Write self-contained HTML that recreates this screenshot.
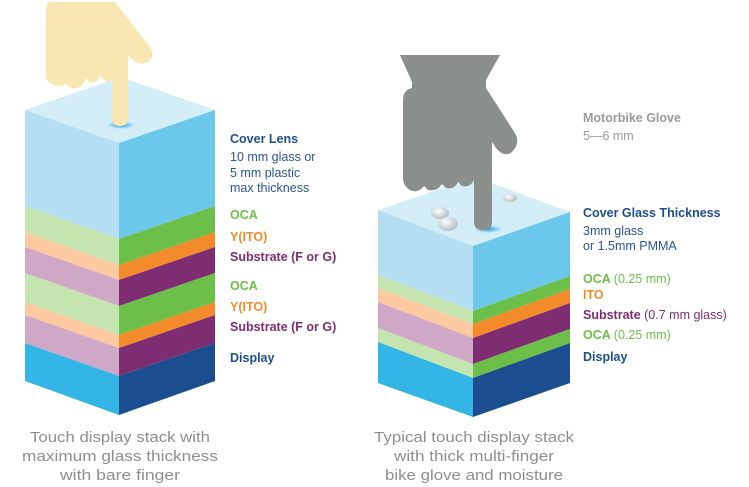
<!DOCTYPE html>
<html><head><meta charset="utf-8"><style>
html,body{margin:0;padding:0;background:#fff;}
svg{display:block;}
.b{font-family:"Liberation Sans",sans-serif;font-size:12.5px;font-weight:bold;}
.n{font-family:"Liberation Sans",sans-serif;font-size:12.5px;}
.c{font-family:"Liberation Sans Narrow","Liberation Sans",sans-serif;font-size:15px;fill:#8c8f8c;text-anchor:middle;}
</style></head><body>
<svg width="749" height="487" viewBox="0 0 749 487" xmlns="http://www.w3.org/2000/svg">
<defs>
<radialGradient id="g" cx="50%" cy="50%" r="50%"><stop offset="0" stop-color="#2a9be0"/><stop offset="1" stop-color="#2a9be0" stop-opacity="0"/></radialGradient>
<radialGradient id="d" cx="40%" cy="35%" r="60%"><stop offset="0" stop-color="#ffffff"/><stop offset="1" stop-color="#b9c4c8"/></radialGradient>
</defs>
<!-- LEFT STACK -->
<g>
<polygon points="25,110 121,77 215,110 119,143" fill="#d4eef8"/>
<!-- layers: left face x 25..119, right 119..215, front offset 33 -->
<polygon points="25,110 119,143 119,239 25,206" fill="#b6def2"/><polygon points="119,143 215,110 215,206 119,239" fill="#6cc8ea"/>
<polygon points="25,206 119,239 119,265 25,232" fill="#c4e4b0"/><polygon points="119,239 215,206 215,232 119,265" fill="#6cbf48"/>
<polygon points="25,232 119,265 119,280 25,247" fill="#fcc9a0"/><polygon points="119,265 215,232 215,247 119,280" fill="#f38b2a"/>
<polygon points="25,247 119,280 119,306 25,273" fill="#cfa8c8"/><polygon points="119,280 215,247 215,273 119,306" fill="#7e2d72"/>
<polygon points="25,273 119,306 119,335 25,302" fill="#c4e4b0"/><polygon points="119,306 215,273 215,302 119,335" fill="#6cbf48"/>
<polygon points="25,302 119,335 119,348 25,315" fill="#fcc9a0"/><polygon points="119,335 215,302 215,315 119,348" fill="#f38b2a"/>
<polygon points="25,315 119,348 119,376 25,343" fill="#cfa8c8"/><polygon points="119,348 215,315 215,343 119,376" fill="#7e2d72"/>
<polygon points="25,343 119,376 119,415 25,381" fill="#33b5e5"/><polygon points="119,376 215,343 215,381 119,415" fill="#1b4e8f"/>
<ellipse cx="121" cy="125" rx="14" ry="4" fill="url(#g)"/>
<path d="M46,8 Q46,2 52,2 L115,2 L146,42 Q158,55 148,62 Q140,66 133,60 L128,56 L128,118 Q128,126 120,126 Q112,126 112,118 L112,80 Q108,84 104,80 L100,76 Q97,84 89,82 L86,78 Q82,90 72,88 L65,84 Q60,88 52,84 Q46,82 46,76 Z" fill="#f9e7b3"/>
</g>
<!-- RIGHT STACK -->
<g>
<polygon points="378,210 475,177 570,212 473,246" fill="#d4eef8"/>
<polygon points="378,210 473,246 473,311 378,275" fill="#b6def2"/><polygon points="473,246 570,212 570,276 473,311" fill="#6cc8ea"/>
<polygon points="378,275 473,311 473,324 378,288" fill="#c4e4b0"/><polygon points="473,311 570,276 570,289 473,324" fill="#6cbf48"/>
<polygon points="378,288 473,324 473,338 378,302" fill="#fcc9a0"/><polygon points="473,324 570,289 570,303 473,338" fill="#f38b2a"/>
<polygon points="378,302 473,338 473,364 378,328" fill="#cfa8c8"/><polygon points="473,338 570,303 570,329 473,364" fill="#7e2d72"/>
<polygon points="378,328 473,364 473,378 378,342" fill="#c4e4b0"/><polygon points="473,364 570,329 570,343 473,378" fill="#6cbf48"/>
<polygon points="378,342 473,378 473,417 378,383" fill="#33b5e5"/><polygon points="473,378 570,343 570,383 473,417" fill="#1b4e8f"/>
<ellipse cx="488" cy="229" rx="14" ry="4" fill="url(#g)"/>
<ellipse cx="440" cy="213" rx="9" ry="6" fill="url(#d)"/>
<ellipse cx="448" cy="224" rx="10" ry="7" fill="url(#d)"/>
<ellipse cx="510" cy="198" rx="7" ry="4" fill="url(#d)"/>
<path d="M400,55 L500,55 L486,80 L486,88 L513,130 Q522,142 512,152 Q504,158 496,148 L492,142 L492,222 Q492,230 483,230 Q474,230 474,222 L474,180 Q470,188 462,186 L458,182 Q454,190 446,188 L442,184 Q437,192 428,190 L424,186 Q418,194 410,190 Q403,186 403,178 L403,100 Q403,90 412,88 L412,82 Z" fill="#8b8f8b"/>
</g>
<!-- LEFT LABELS -->
<text x="230" y="143" class="b" fill="#1f4e8c">Cover Lens</text>
<text x="230" y="161" class="n" fill="#2a5592">10 mm glass or</text>
<text x="230" y="177" class="n" fill="#2a5592">5 mm plastic</text>
<text x="230" y="192" class="n" fill="#2a5592">max thickness</text>
<text x="230" y="219" class="b" fill="#6cbf48">OCA</text>
<text x="230" y="241" class="b" fill="#f38b2a">Y(ITO)</text>
<text x="230" y="261" class="b" fill="#7e2d72">Substrate (F or G)</text>
<text x="230" y="290" class="b" fill="#6cbf48">OCA</text>
<text x="230" y="311" class="b" fill="#f38b2a">Y(ITO)</text>
<text x="230" y="331" class="b" fill="#7e2d72">Substrate (F or G)</text>
<text x="230" y="362" class="b" fill="#1f4e8c">Display</text>
<!-- RIGHT LABELS -->
<text x="583" y="122" class="b" fill="#9a9c9a">Motorbike Glove</text>
<text x="583" y="140" class="n" fill="#9a9c9a">5—6 mm</text>
<text x="583" y="217" class="b" fill="#1f4e8c">Cover Glass Thickness</text>
<text x="583" y="235" class="n" fill="#2a5592">3mm glass</text>
<text x="583" y="250" class="n" fill="#2a5592">or 1.5mm PMMA</text>
<text x="583" y="283" class="b" fill="#6cbf48">OCA <tspan font-weight="normal">(0.25 mm)</tspan></text>
<text x="583" y="299" class="b" fill="#f38b2a">ITO</text>
<text x="583" y="319" class="b" fill="#7e2d72">Substrate <tspan font-weight="normal">(0.7 mm glass)</tspan></text>
<text x="583" y="339" class="b" fill="#6cbf48">OCA <tspan font-weight="normal">(0.25 mm)</tspan></text>
<text x="583" y="361" class="b" fill="#1f4e8c">Display</text>
<!-- CAPTIONS -->
<text x="120" y="442" class="c" textLength="180" lengthAdjust="spacingAndGlyphs">Touch display stack with</text>
<text x="120" y="461" class="c" textLength="196" lengthAdjust="spacingAndGlyphs">maximum glass thickness</text>
<text x="120" y="480" class="c" textLength="120" lengthAdjust="spacingAndGlyphs">with bare finger</text>
<text x="474" y="442" class="c" textLength="200" lengthAdjust="spacingAndGlyphs">Typical touch display stack</text>
<text x="474" y="461" class="c" textLength="160" lengthAdjust="spacingAndGlyphs">with thick multi-finger</text>
<text x="474" y="480" class="c" textLength="178" lengthAdjust="spacingAndGlyphs">bike glove and moisture</text>
</svg>
</body></html>
